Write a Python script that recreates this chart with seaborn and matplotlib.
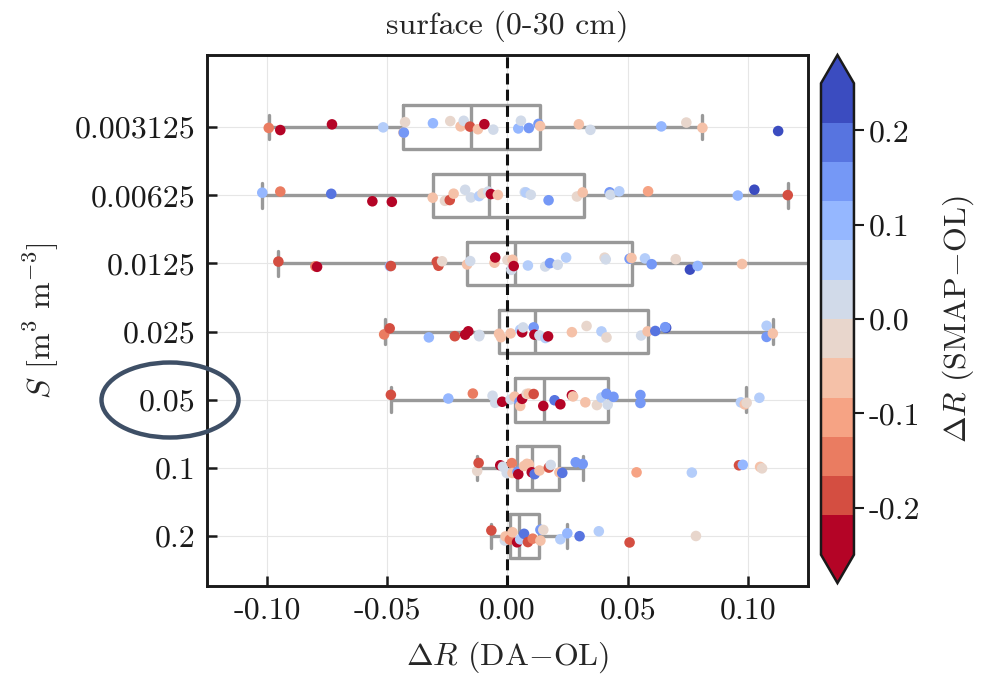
import matplotlib
matplotlib.use("Agg")
import matplotlib as mpl
import matplotlib.pyplot as plt
import numpy as np
import pandas as pd
import seaborn as sns
from matplotlib.patches import Ellipse
from matplotlib.ticker import FormatStrFormatter


# S levels (m3 m-3), top to bottom
levels = ["0.003125", "0.00625", "0.0125", "0.025", "0.05", "0.1", "0.2"]

# box statistics of dR (DA-OL) per level
box_q1 = [-0.0433, -0.0311, -0.0168, -0.0035, 0.0030, 0.0040, 0.0010]
box_med = [-0.0152, -0.0075, 0.0030, 0.0113, 0.0152, 0.0101, 0.0050]
box_q3 = [0.0136, 0.0319, 0.0516, 0.0585, 0.0420, 0.0216, 0.0133]
box_lo = [-0.0993, -0.1020, -0.0953, -0.0511, -0.0485, -0.0126, -0.0067]
box_hi = [0.0811, 0.1166, 0.1400, 0.1104, 0.0992, 0.0313, 0.0249]

# single sites: dR (DA-OL) and dR (SMAP-OL)
da_0003125 = [-0.0993, -0.0945, -0.0730, -0.0517, -0.0433, -0.0431, -0.0426, -0.0310, -0.0238,
              -0.0195, -0.0182, -0.0156, -0.0123, -0.0096, -0.0059, 0.0045, 0.0056, 0.0089,
              0.0129, 0.0136, 0.0297, 0.0345, 0.0640, 0.0744, 0.0811, 0.1126]
smap_0003125 = [-0.15, -0.23, -0.23, 0.06, -0.06, 0.15, -0.02, 0.10, -0.02,
                -0.06, 0.02, -0.19, -0.06, -0.23, 0.02, 0.10, 0.02, 0.15,
                0.15, -0.06, -0.06, 0.02, 0.10, -0.02, -0.06, 0.23]

da_000625 = [-0.1020, -0.0945, -0.0733, -0.0562, -0.0481, -0.0311, -0.0260, -0.0240, -0.0224,
             -0.0176, -0.0152, -0.0118, -0.0104, -0.0080, -0.0069, -0.0040, 0.0072, 0.0077,
             0.0097, 0.0171, 0.0289, 0.0313, 0.0425, 0.0428, 0.0465, 0.0585, 0.0958, 0.1027, 0.1166]
smap_000625 = [0.10, -0.15, 0.19, -0.23, -0.23, -0.06, -0.02, -0.19, -0.06,
               0.02, 0.02, 0.06, -0.02, 0.02, -0.23, -0.06, 0.02, 0.06,
               0.02, 0.15, -0.02, -0.06, 0.15, 0.02, 0.06, -0.10, 0.10, 0.23, -0.19]

da_00125 = [-0.0953, -0.0799, -0.0792, -0.0489, -0.0485, -0.0294, -0.0287, -0.0272, -0.0168,
            -0.0155, -0.0054, -0.0051, 0.0000, 0.0016, 0.0021, 0.0026, 0.0085, 0.0157,
            0.0177, 0.0209, 0.0244, 0.0404, 0.0409, 0.0508, 0.0516, 0.0572, 0.0600,
            0.0700, 0.0759, 0.0791, 0.0976]
smap_00125 = [-0.19, -0.15, -0.23, 0.10, -0.19, -0.19, -0.19, -0.02, -0.06,
              0.02, -0.06, -0.23, -0.02, 0.02, -0.06, -0.23, 0.06, 0.02,
              0.15, 0.02, 0.06, -0.02, 0.02, 0.15, -0.06, 0.06, 0.15,
              -0.02, 0.23, 0.10, -0.06]

da_0025 = [-0.0513, -0.0490, -0.0327, -0.0219, -0.0176, -0.0163, -0.0118, -0.0117, -0.0035,
           -0.0027, 0.0013, 0.0053, 0.0061, 0.0065, 0.0109, 0.0112, 0.0133, 0.0158,
           0.0169, 0.0268, 0.0329, 0.0391, 0.0412, 0.0556, 0.0583, 0.0615, 0.0660,
           0.0656, 0.1078, 0.1078, 0.1104]
smap_0025 = [-0.15, -0.19, 0.10, -0.19, -0.23, -0.23, 0.02, 0.02, -0.06,
             -0.06, -0.06, 0.06, -0.23, 0.02, 0.15, -0.23, 0.02, 0.06,
             -0.23, -0.06, -0.02, 0.06, -0.02, 0.02, -0.06, 0.19, 0.23,
             0.15, 0.06, 0.15, -0.06]

da_005 = [-0.0485, -0.0246, -0.0144, -0.0062, -0.0051, -0.0022, 0.0013, 0.0030, 0.0050,
          0.0053, 0.0061, 0.0080, 0.0089, 0.0109, 0.0149, 0.0196, 0.0220, 0.0268,
          0.0273, 0.0324, 0.0372, 0.0391, 0.0412, 0.0417, 0.0441, 0.0553, 0.0553,
          0.0971, 0.0987, 0.0995, 0.1048]
smap_005 = [-0.19, 0.10, -0.15, 0.02, 0.02, -0.23, 0.02, -0.06, 0.15,
            -0.06, -0.23, -0.02, -0.06, -0.19, -0.23, 0.19, -0.23, -0.23,
            -0.06, -0.06, -0.02, 0.06, 0.15, 0.02, 0.15, 0.15, 0.15,
            0.06, -0.06, -0.02, 0.06]

da_01 = [-0.0126, -0.0120, -0.0030, -0.0019, -0.0003, 0.0018, 0.0021, 0.0042, 0.0045,
         0.0069, 0.0081, 0.0089, 0.0101, 0.0113, 0.0133, 0.0172, 0.0180, 0.0216,
         0.0228, 0.0284, 0.0313, 0.0537, 0.0767, 0.0963, 0.0979, 0.1051, 0.1059]
smap_01 = [-0.02, -0.19, -0.23, 0.02, 0.02, -0.15, -0.06, 0.15, -0.23,
           -0.06, -0.06, -0.06, -0.23, 0.19, -0.06, -0.19, 0.02, -0.06,
           0.19, 0.15, 0.15, -0.10, 0.06, -0.19, 0.10, -0.06, -0.02]

da_02 = [-0.0067, -0.0011, -0.0008, 0.0010, 0.0021, 0.0040, 0.0053, 0.0069, 0.0085,
         0.0105, 0.0137, 0.0137, 0.0149, 0.0220, 0.0249, 0.0300, 0.0380, 0.0508, 0.0784]
smap_02 = [-0.19, 0.02, -0.06, -0.15, -0.06, -0.23, 0.06, 0.19, -0.19,
           -0.15, -0.06, 0.15, -0.02, 0.06, 0.10, 0.19, 0.06, -0.19, -0.02]

da_all = [da_0003125, da_000625, da_00125, da_0025, da_005, da_01, da_02]
smap_all = [smap_0003125, smap_000625, smap_00125, smap_0025, smap_005, smap_01, smap_02]

rows = []
for lev, da, sm in zip(levels, da_all, smap_all):
    for a, b in zip(da, sm):
        rows.append({"S": lev, "dR_da": a, "dR_smap": b})
df = pd.DataFrame(rows)

sns.set_theme(style="white")
plt.rcParams["font.family"] = "serif"
plt.rcParams["font.serif"] = ["cmr10", "DejaVu Serif"]
plt.rcParams["mathtext.fontset"] = "cm"
plt.rcParams["axes.unicode_minus"] = False
plt.rcParams["axes.formatter.use_mathtext"] = True

FS = 23
GRAY = "#999999"

cmap = mpl.colormaps["coolwarm_r"].resampled(12)
norm = mpl.colors.Normalize(vmin=-0.25, vmax=0.25)

fig = plt.figure(figsize=(9.87, 6.85), dpi=100)
ax = fig.add_axes([0.2097, 0.1445, 0.6089, 0.7752])
cax = fig.add_axes([0.8318, 0.1489, 0.0334, 0.7708])

np.random.seed(3)
sns.stripplot(data=df, x="dR_da", y="S", hue="dR_smap", order=levels,
              palette=cmap, hue_norm=norm, jitter=0.1, size=7.6,
              linewidth=0, legend=False, ax=ax, zorder=3)

stats = []
for i in range(len(levels)):
    stats.append({"med": box_med[i], "q1": box_q1[i], "q3": box_q3[i],
                  "whislo": box_lo[i], "whishi": box_hi[i], "fliers": []})
line = dict(color=GRAY, linewidth=2.4)
ax.bxp(stats, positions=range(len(levels)), widths=0.64, orientation="horizontal",
       showfliers=False, boxprops=line, whiskerprops=line, capprops=line,
       medianprops=line, capwidths=0.36, manage_ticks=False)

ax.axvline(0, color="#111111", lw=2.2, ls=(0, (3.6, 1.7)), zorder=2.5)

ax.set_xlim(-0.125, 0.125)
ax.set_ylim(6.735, -1.06)
ax.set_xticks([-0.10, -0.05, 0.0, 0.05, 0.10])
ax.xaxis.set_major_formatter(FormatStrFormatter("%.2f"))
ax.set_yticks(range(len(levels)))
ax.set_yticklabels(levels)
ax.grid(True, color="#e6e6e6", lw=0.8)
ax.set_axisbelow(True)
ax.tick_params(direction="in", length=7.5, width=1.8, labelsize=FS, pad=8,
               left=True, bottom=True, colors="k")
for sp in ax.spines.values():
    sp.set_color("k")
    sp.set_linewidth(2.1)

ax.set_title("surface (0-30 cm)", fontsize=FS, pad=15)
ax.set_xlabel(r"$\Delta R$ (DA$-$OL)", fontsize=FS, labelpad=11)
ax.set_ylabel(r"$S$ [m$^3$ m$^{-3}$]", fontsize=FS, labelpad=10)

sm = mpl.cm.ScalarMappable(norm=norm, cmap=cmap)
cb = fig.colorbar(sm, cax=cax, extend="both", extendfrac=0.06,
                  boundaries=np.linspace(-0.25, 0.25, 13),
                  ticks=[-0.2, -0.1, 0.0, 0.1, 0.2], format="%.1f")
cb.outline.set_linewidth(1.8)
cb.outline.set_edgecolor("k")
cax.tick_params(labelsize=FS, length=7, width=1.5, direction="out", colors="k")
cb.set_label(r"$\Delta R$ (SMAP$-$OL)", fontsize=FS, labelpad=15)

ell = Ellipse((170 / 987, 1 - 400 / 685), 137 / 987, 75 / 685, transform=fig.transFigure,
              fill=False, edgecolor="#3e4f66", linewidth=3.2, clip_on=False)
fig.add_artist(ell)

fig.savefig("out.png", dpi=100)
